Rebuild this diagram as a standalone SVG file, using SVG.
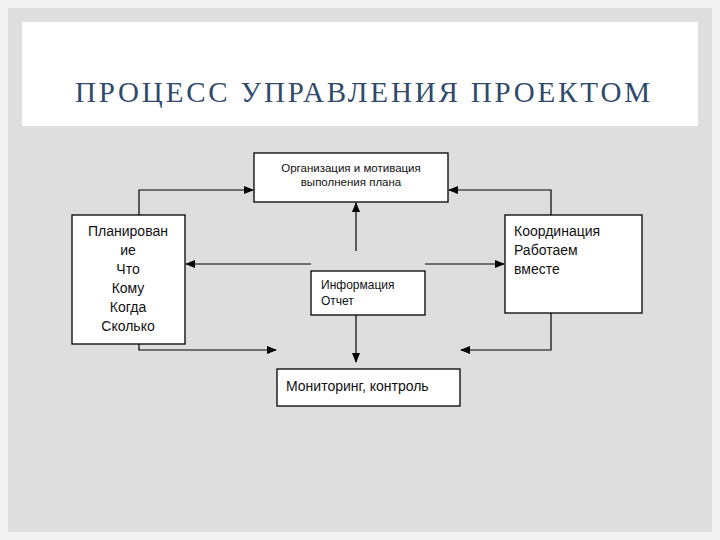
<svg xmlns="http://www.w3.org/2000/svg" width="720" height="540" viewBox="0 0 720 540">
<style>
.b{fill:#fff;stroke:#000;stroke-width:1.3}
.c{fill:none;stroke:#000;stroke-width:1.2}
text{font-family:"Liberation Sans",Arial,sans-serif;fill:#111}
</style>
<defs><marker id="a" markerWidth="10" markerHeight="8" refX="9" refY="4" orient="auto" markerUnits="userSpaceOnUse"><path d="M0,0L10,4L0,8z" fill="#000"/></marker></defs>
<rect width="720" height="540" fill="#f2f2f2"/>
<rect x="8" y="8" width="704" height="524" fill="#dedede"/>
<rect x="22" y="22" width="676" height="104" fill="#fff"/>
<text x="75" y="102" textLength="575" lengthAdjust="spacing" style="font-family:'Liberation Serif',serif;font-size:29px;fill:#2f4a6a">ПРОЦЕСС УПРАВЛЕНИЯ ПРОЕКТОМ</text>
<g id="conn">
<path class="c" d="M139,215V190H253" marker-end="url(#a)"/>
<path class="c" d="M551,215V190H449" marker-end="url(#a)"/>
<path class="c" d="M356,251V203" marker-end="url(#a)"/>
<path class="c" d="M311,264H186" marker-end="url(#a)"/>
<path class="c" d="M425,264H504" marker-end="url(#a)"/>
<path class="c" d="M356,315V362" marker-end="url(#a)"/>
<path class="c" d="M139,344V350H276" marker-end="url(#a)"/>
<path class="c" d="M551,313V350H461" marker-end="url(#a)"/>
</g>
<g id="org"><rect class="b" x="254" y="153" width="194" height="49"/>
<text x="351" y="172" text-anchor="middle" font-size="11.5">Организация и мотивация</text>
<text x="351" y="186" text-anchor="middle" font-size="11.5">выполнения плана</text></g>
<g id="plan"><rect class="b" x="72" y="215" width="113" height="129"/>
<text text-anchor="middle" font-size="14"><tspan x="128" y="236">Планирован</tspan><tspan x="128" y="255">ие</tspan><tspan x="128" y="274">Что</tspan><tspan x="128" y="293">Кому</tspan><tspan x="128" y="312">Когда</tspan><tspan x="128" y="331">Сколько</tspan></text></g>
<g id="coord"><rect class="b" x="505" y="215" width="137" height="98"/>
<text font-size="14"><tspan x="514" y="236">Координация</tspan><tspan x="514" y="255">Работаем</tspan><tspan x="514" y="274">вместе</tspan></text></g>
<g id="info"><rect class="b" x="311" y="271" width="114" height="44"/>
<text font-size="12"><tspan x="321" y="289">Информация</tspan><tspan x="321" y="305">Отчет</tspan></text></g>
<g id="mon"><rect class="b" x="277" y="369" width="183" height="37"/>
<text x="286" y="391" font-size="14">Мониторинг, контроль</text></g>
</svg>
